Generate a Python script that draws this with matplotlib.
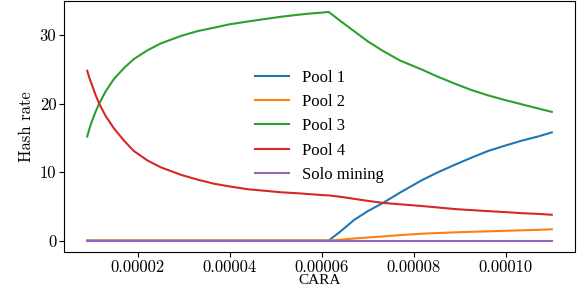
import matplotlib
matplotlib.use("Agg")
from matplotlib import pyplot as plt
from matplotlib.ticker import FuncFormatter

# valores (CARA em unidades de 1e-5)
cara_e5 = [0.9, 0.95, 1.0, 1.08, 1.16, 1.3, 1.48, 1.7, 1.91, 2.21, 2.5, 2.94,
           3.3, 3.66, 4.0, 4.39, 4.8, 5.12, 5.5, 5.8, 6.0, 6.15,
           6.4, 6.7, 7.0, 7.33, 7.7, 8.17, 8.5, 8.9, 9.25, 9.62, 10.0, 10.35,
           10.7, 11.0]
cara = [c * 1e-5 for c in cara_e5]

zeros_pre = [0] * 22
pool1 = zeros_pre + [1.3, 3.0, 4.3, 5.5, 7.0, 8.8, 9.9, 11.1, 12.1, 13.1, 13.9,
                     14.6, 15.2, 15.8]
pool2 = zeros_pre + [0.12, 0.3, 0.45, 0.6, 0.8, 1.0, 1.1, 1.2, 1.28, 1.35, 1.43,
                     1.5, 1.57, 1.64]
pool3 = [15.2, 16.4, 17.4, 18.8, 20.0, 21.8, 23.6, 25.2, 26.5, 27.8, 28.8, 29.9,
         30.6, 31.1, 31.6, 32.0, 32.4, 32.7, 33.0, 33.2, 33.3, 33.4,
         32.1, 30.6, 29.1, 27.7, 26.3, 25.0, 24.0, 22.9, 22.0, 21.2, 20.5, 19.9,
         19.3, 18.8]
pool4 = [24.8, 23.7, 22.8, 21.3, 20.0, 18.2, 16.4, 14.6, 13.1, 11.7, 10.7, 9.6,
         8.9, 8.3, 7.9, 7.5, 7.25, 7.05, 6.9, 6.75, 6.65, 6.6,
         6.4, 6.1, 5.8, 5.5, 5.3, 5.05, 4.85, 4.6, 4.45, 4.3, 4.15, 4.0,
         3.9, 3.77]
solo = [0] * len(cara)

labels = ["Pool 1", "Pool 2", "Pool 3", "Pool 4", "Solo mining"]
xticks = [0.00002, 0.00004, 0.00006, 0.00008, 0.00010]
yticks = [0, 10, 20, 30]

times = "Liberation Serif"
cm = "cmr10"

fig = plt.figure(figsize=(5.77, 2.88), dpi=100)
ax = fig.add_axes([64 / 577, 36 / 288, 511 / 577, 251.5 / 288])

for serie, nome in zip([pool1, pool2, pool3, pool4, solo], labels):
    ax.plot(cara, serie, label=nome, linewidth=1.5)

ax.set_xticks(xticks)
ax.set_yticks(yticks)
ax.xaxis.set_major_formatter(FuncFormatter(lambda v, p: "%.5f" % v))
for t in ax.get_xticklabels() + ax.get_yticklabels():
    t.set_fontfamily(cm)
    t.set_fontsize(12)
ax.tick_params(pad=2)

ax.set_xlabel("CARA", fontfamily=times, fontsize=11, labelpad=-0.5)
ax.set_ylabel("Hash rate", fontfamily=cm, fontsize=12, labelpad=4)

ax.legend(loc="center", frameon=False, prop={"family": times, "size": 12})

fig.savefig("out.png", dpi=100)
